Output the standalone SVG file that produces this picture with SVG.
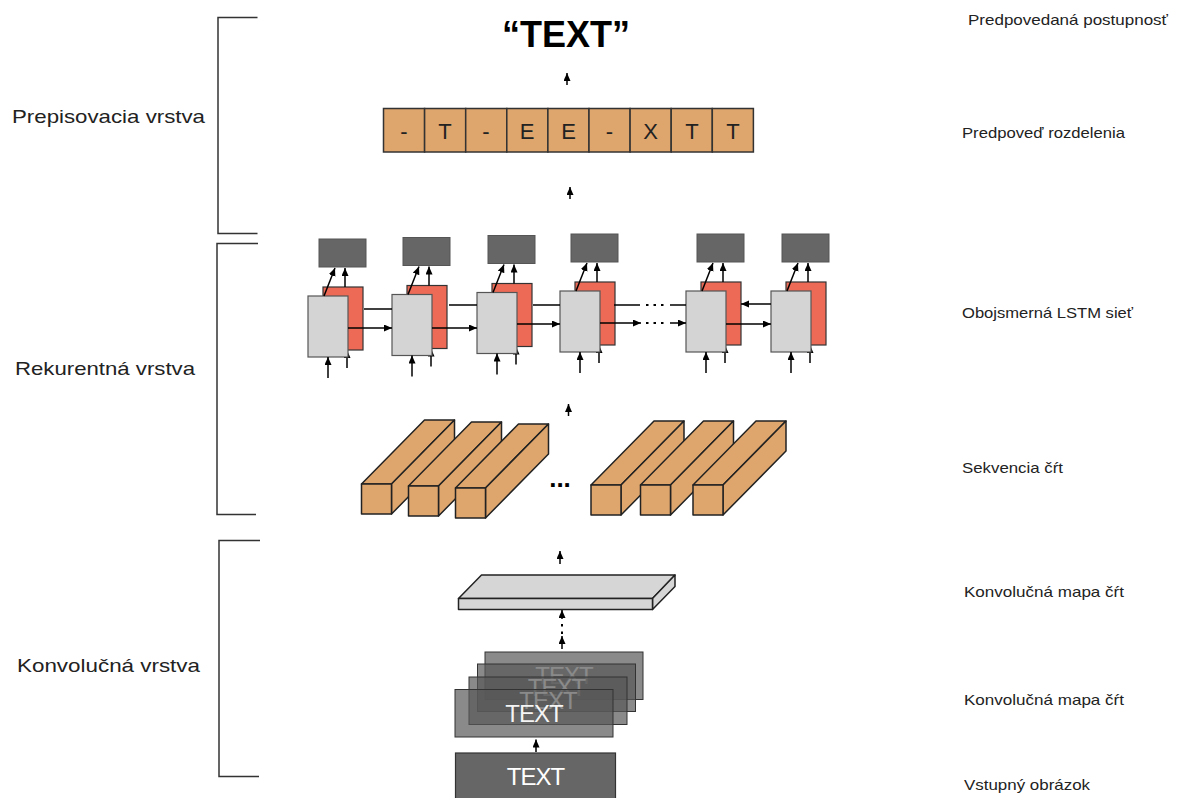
<svg xmlns="http://www.w3.org/2000/svg" width="1184" height="798" viewBox="0 0 1184 798">
<defs>
<marker id="ah" markerUnits="userSpaceOnUse" markerWidth="9" markerHeight="8" refX="8" refY="3.5" orient="auto">
<path d="M0,0 L8,3.5 L0,7 z" fill="#000"/>
</marker>
<style>
text{font-family:"Liberation Sans",Arial,Helvetica,sans-serif;}
.lbl{font-size:19px;fill:#222;}
.rl{font-size:15px;fill:#222;}
.br{fill:none;stroke:#333;stroke-width:1.5;}
.ln{stroke:#000;stroke-width:1.5;fill:none;}
.ar{stroke:#000;stroke-width:1.5;fill:none;marker-end:url(#ah);}
.dot{stroke:#000;stroke-width:2;fill:none;stroke-dasharray:2.5 5;}
.seq{fill:#dea56c;stroke:#333;stroke-width:1.5;}
.seqt{font-size:22px;fill:#222;text-anchor:middle;}
.dark{fill:#666;stroke:#555;stroke-width:1;}
.red{fill:#ed6b56;stroke:#333;stroke-width:1.2;}
.grey{fill:#d4d4d4;stroke:#555;stroke-width:1.2;}
.bar{fill:#dea56c;stroke:#222;stroke-width:1.5;stroke-linejoin:round;}
.slab{fill:#d6d6d6;stroke:#222;stroke-width:1.5;stroke-linejoin:round;}
.map{fill:#595959;fill-opacity:0.7;stroke:#333;stroke-width:1;}
.mapt{font-size:24px;fill:#fff;text-anchor:middle;letter-spacing:-1px;}
</style>
</defs>
<rect width="1184" height="798" fill="#fff"/>

<g id="brackets">
<path class="br" d="M257.5,17.5 H218 V233.5 H257.5"/>
<path class="br" d="M258,243.5 H217 V514.5 H256"/>
<path class="br" d="M260,540.5 H219 V776.5 H259"/>
</g>

<g id="left-labels">
<text class="lbl" x="12" y="123" textLength="193" lengthAdjust="spacingAndGlyphs">Prepisovacia vrstva</text>
<text class="lbl" x="15" y="375" textLength="180" lengthAdjust="spacingAndGlyphs">Rekurentná vrstva</text>
<text class="lbl" x="17" y="672" textLength="183" lengthAdjust="spacingAndGlyphs">Konvolučná vrstva</text>
</g>

<g id="right-labels">
<text class="rl" x="968" y="25" textLength="200" lengthAdjust="spacingAndGlyphs">Predpovedaná postupnosť</text>
<text class="rl" x="962" y="138" textLength="163" lengthAdjust="spacingAndGlyphs">Predpoveď rozdelenia</text>
<text class="rl" x="962" y="318" textLength="171" lengthAdjust="spacingAndGlyphs">Obojsmerná LSTM sieť</text>
<text class="rl" x="962" y="473" textLength="101" lengthAdjust="spacingAndGlyphs">Sekvencia čŕt</text>
<text class="rl" x="964" y="597" textLength="160" lengthAdjust="spacingAndGlyphs">Konvolučná mapa čŕt</text>
<text class="rl" x="964" y="705" textLength="160" lengthAdjust="spacingAndGlyphs">Konvolučná mapa čŕt</text>
<text class="rl" x="964" y="790" textLength="126" lengthAdjust="spacingAndGlyphs">Vstupný obrázok</text>
</g>

<g id="output-text">
<text x="566" y="47" font-size="36" font-weight="bold" text-anchor="middle" fill="#000">“TEXT”</text>
</g>

<g id="sequence">
<rect class="seq" x="383.5" y="108.5" width="41.1" height="43.5"/>
<rect class="seq" x="424.6" y="108.5" width="41.1" height="43.5"/>
<rect class="seq" x="465.7" y="108.5" width="41.1" height="43.5"/>
<rect class="seq" x="506.8" y="108.5" width="41.1" height="43.5"/>
<rect class="seq" x="547.9" y="108.5" width="41.1" height="43.5"/>
<rect class="seq" x="589" y="108.5" width="41.1" height="43.5"/>
<rect class="seq" x="630.1" y="108.5" width="41.1" height="43.5"/>
<rect class="seq" x="671.2" y="108.5" width="41.1" height="43.5"/>
<rect class="seq" x="712.3" y="108.5" width="41.1" height="43.5"/>
<text class="seqt" x="404" y="139">-</text>
<text class="seqt" x="445" y="139">T</text>
<text class="seqt" x="486" y="139">-</text>
<text class="seqt" x="527" y="139">E</text>
<text class="seqt" x="568.5" y="139">E</text>
<text class="seqt" x="609.5" y="139">-</text>
<text class="seqt" x="650.5" y="139">X</text>
<text class="seqt" x="692" y="139">T</text>
<text class="seqt" x="733" y="139">T</text>
</g>

<g id="lstm-cell-1" transform="translate(308,296)">
<rect class="dark" x="11" y="-57" width="47" height="28"/>
<line class="ar" x1="39" y1="72" x2="39" y2="54"/>
<rect class="red" x="15" y="-9" width="40" height="63"/>
<rect class="grey" x="0" y="0" width="40" height="61"/>
<line class="ar" x1="16" y1="0" x2="27" y2="-28"/>
<line class="ar" x1="37" y1="-9" x2="37" y2="-28"/>
<line class="ar" x1="20" y1="82" x2="20" y2="61"/>
</g>
<g id="lstm-cell-2" transform="translate(392,294.5)">
<rect class="dark" x="11" y="-57" width="47" height="28"/>
<line class="ar" x1="39" y1="72" x2="39" y2="54"/>
<rect class="red" x="15" y="-9" width="40" height="63"/>
<rect class="grey" x="0" y="0" width="40" height="61"/>
<line class="ar" x1="16" y1="0" x2="27" y2="-28"/>
<line class="ar" x1="37" y1="-9" x2="37" y2="-28"/>
<line class="ar" x1="20" y1="82" x2="20" y2="61"/>
</g>
<g id="lstm-cell-3" transform="translate(477,292.5)">
<rect class="dark" x="11" y="-57" width="47" height="28"/>
<line class="ar" x1="39" y1="72" x2="39" y2="54"/>
<rect class="red" x="15" y="-9" width="40" height="63"/>
<rect class="grey" x="0" y="0" width="40" height="61"/>
<line class="ar" x1="16" y1="0" x2="27" y2="-28"/>
<line class="ar" x1="37" y1="-9" x2="37" y2="-28"/>
<line class="ar" x1="20" y1="82" x2="20" y2="61"/>
</g>
<g id="lstm-cell-4" transform="translate(560,291)">
<rect class="dark" x="11" y="-57" width="47" height="28"/>
<line class="ar" x1="39" y1="72" x2="39" y2="54"/>
<rect class="red" x="15" y="-9" width="40" height="63"/>
<rect class="grey" x="0" y="0" width="40" height="61"/>
<line class="ar" x1="16" y1="0" x2="27" y2="-28"/>
<line class="ar" x1="37" y1="-9" x2="37" y2="-28"/>
<line class="ar" x1="20" y1="82" x2="20" y2="61"/>
</g>
<g id="lstm-cell-5" transform="translate(686,291)">
<rect class="dark" x="11" y="-57" width="47" height="28"/>
<line class="ar" x1="39" y1="72" x2="39" y2="54"/>
<rect class="red" x="15" y="-9" width="40" height="63"/>
<rect class="grey" x="0" y="0" width="40" height="61"/>
<line class="ar" x1="16" y1="0" x2="27" y2="-28"/>
<line class="ar" x1="37" y1="-9" x2="37" y2="-28"/>
<line class="ar" x1="20" y1="82" x2="20" y2="61"/>
</g>
<g id="lstm-cell-6" transform="translate(771,291)">
<rect class="dark" x="11" y="-57" width="47" height="28"/>
<line class="ar" x1="39" y1="72" x2="39" y2="54"/>
<rect class="red" x="15" y="-9" width="40" height="63"/>
<rect class="grey" x="0" y="0" width="40" height="61"/>
<line class="ar" x1="16" y1="0" x2="27" y2="-28"/>
<line class="ar" x1="37" y1="-9" x2="37" y2="-28"/>
<line class="ar" x1="20" y1="82" x2="20" y2="61"/>
</g>

<g id="feature-bars-left">
<g transform="translate(361.5,484)">
<polygon class="bar" points="0,0 63,-64 93,-64 30,0"/>
<polygon class="bar" points="30,0 93,-64 93,-34 30,30"/>
<rect class="bar" x="0" y="0" width="30" height="30"/>
</g>
<g transform="translate(408.5,486)">
<polygon class="bar" points="0,0 63,-64 93,-64 30,0"/>
<polygon class="bar" points="30,0 93,-64 93,-34 30,30"/>
<rect class="bar" x="0" y="0" width="30" height="30"/>
</g>
<g transform="translate(455.5,488)">
<polygon class="bar" points="0,0 63,-64 93,-64 30,0"/>
<polygon class="bar" points="30,0 93,-64 93,-34 30,30"/>
<rect class="bar" x="0" y="0" width="30" height="30"/>
</g>
</g>
<g id="feature-ellipsis">
<text x="560" y="487" font-size="26" font-weight="bold" text-anchor="middle" fill="#000">...</text>
</g>
<g id="feature-bars-right">
<g transform="translate(591,485)">
<polygon class="bar" points="0,0 63,-64 93,-64 30,0"/>
<polygon class="bar" points="30,0 93,-64 93,-34 30,30"/>
<rect class="bar" x="0" y="0" width="30" height="30"/>
</g>
<g transform="translate(640.5,485)">
<polygon class="bar" points="0,0 63,-64 93,-64 30,0"/>
<polygon class="bar" points="30,0 93,-64 93,-34 30,30"/>
<rect class="bar" x="0" y="0" width="30" height="30"/>
</g>
<g transform="translate(693,485)">
<polygon class="bar" points="0,0 63,-64 93,-64 30,0"/>
<polygon class="bar" points="30,0 93,-64 93,-34 30,30"/>
<rect class="bar" x="0" y="0" width="30" height="30"/>
</g>
</g>

<g id="conv-feature-map">
<polygon class="slab" points="458.5,598.5 481.5,575 675,575 652.5,598.5"/>
<polygon class="slab" points="652.5,598.5 675,575 675,586.5 652.5,609.5"/>
<rect class="slab" x="458.5" y="598.5" width="194" height="11"/>
</g>

<g id="conv-maps">
<rect class="map" x="485" y="652" width="158" height="47.5"/>
<text class="mapt" x="564" y="684">TEXT</text>
<rect class="map" x="477.5" y="664" width="158" height="47.5"/>
<text class="mapt" x="556.5" y="696">TEXT</text>
<rect class="map" x="469" y="677" width="158" height="47.5"/>
<text class="mapt" x="548" y="709">TEXT</text>
<rect class="map" x="455" y="689.5" width="158" height="47.5"/>
<text class="mapt" x="534" y="722" fill-opacity="0.95">TEXT</text>
</g>

<g id="input-image">
<rect x="455.5" y="753" width="160" height="50" fill="#666" stroke="#333" stroke-width="1.2"/>
<text class="mapt" x="535.5" y="785">TEXT</text>
</g>

<g id="connectors">
<line class="ar" x1="567" y1="85" x2="567" y2="73"/>
<line class="ar" x1="570" y1="199" x2="570" y2="187"/>
<line class="ar" x1="568.5" y1="416" x2="568.5" y2="404"/>
<line class="ar" x1="560" y1="564" x2="560" y2="551"/>
<line class="ar" x1="536" y1="752" x2="536" y2="739.5"/>
<line class="ar" x1="562" y1="649" x2="562" y2="636"/>
<line class="dot" x1="562" y1="634" x2="562" y2="619"/>
<line class="ar" x1="562" y1="619" x2="562" y2="610"/>

<line class="ar" x1="348" y1="328" x2="392" y2="328"/>
<line class="ar" x1="432" y1="328" x2="477" y2="328"/>
<line class="ar" x1="517" y1="324" x2="560" y2="324"/>
<line class="ar" x1="600" y1="323" x2="641" y2="323"/>
<line class="dot" x1="646" y1="323" x2="668" y2="323"/>
<line class="ar" x1="670" y1="323" x2="686" y2="323"/>
<line class="ar" x1="726" y1="324" x2="771" y2="324"/>

<line class="ln" x1="364" y1="309" x2="392" y2="309"/>
<line class="ln" x1="449" y1="305" x2="477" y2="305"/>
<line class="ln" x1="533" y1="305" x2="560" y2="305"/>
<line class="ln" x1="614" y1="305" x2="640" y2="305"/>
<line class="dot" x1="646" y1="305" x2="668" y2="305"/>
<line class="ln" x1="670" y1="305" x2="686" y2="305"/>
<line class="ar" x1="771" y1="304" x2="741" y2="304"/>
</g>
</svg>
